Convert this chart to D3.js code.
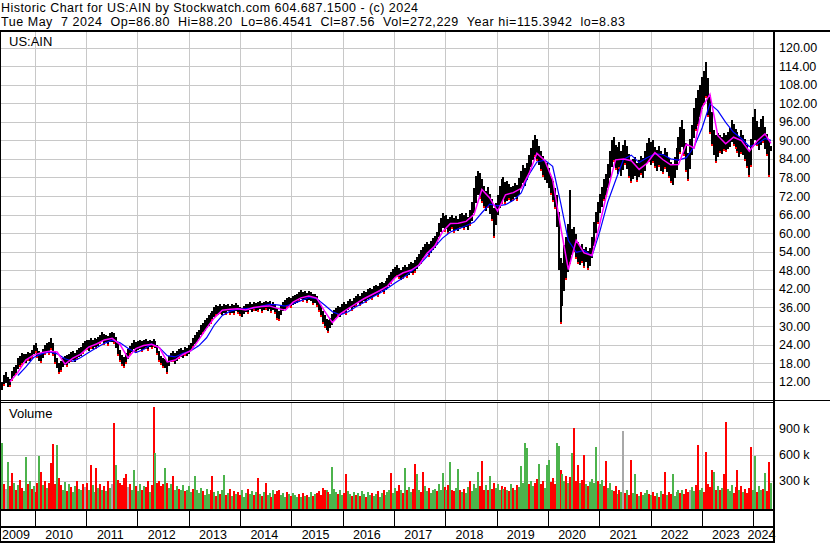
<!DOCTYPE html>
<html>
<head>
<meta charset="utf-8">
<script src="https://cdn.jsdelivr.net/npm/d3@7"></script>
<style>
  body { margin: 0; background: #fff; }
  svg { display: block; font-family: "Liberation Sans", Arial, sans-serif; }
</style>
</head>
<body>
<script>
// --- texts ---
const titleLine = "Historic Chart for US:AIN by Stockwatch.com 604.687.1500 - (c) 2024";
const quoteLine = "Tue May\u00a0\u00a07 2024\u00a0\u00a0Op=86.80\u00a0\u00a0Hi=88.20\u00a0\u00a0Lo=86.4541\u00a0\u00a0Cl=87.56\u00a0\u00a0Vol=272,229\u00a0\u00a0Year hi=115.3942\u00a0\u00a0lo=8.83";
const symbol = "US:AIN";
const lastDate = "2024-05-07";   // one bar every two weeks, ending here

const priceTicks = [12, 18, 24, 30, 36, 42, 48, 54, 60, 66, 72, 78, 84, 90, 96, 102, 108, 114, 120];
const volTicks = [300000, 600000, 900000];
const volTickLabels = ["300 k", "600 k", "900 k"];
const years = [2009, 2010, 2011, 2012, 2013, 2014, 2015, 2016, 2017, 2018, 2019, 2020, 2021, 2022, 2023, 2024];

// --- bars (two-week high / low) ---
const barHigh = [
  12.0,14.2,15.0,13.4,12.8,15.6,16.8,17.5,19.6,20.4, 21.2,21.0,20.8,21.6,21.2,22.4,24.0,24.6,23.0,21.8,
  21.4,22.6,23.8,24.4,24.8,26.0,24.6,22.0,19.6,18.0, 18.6,19.6,20.4,20.6,21.0,21.6,22.0,21.4,22.2,22.8,
  23.2,24.4,25.0,25.4,25.6,26.0,25.4,26.2,25.8,26.4, 27.2,28.0,27.4,27.2,26.8,27.6,28.2,27.6,26.4,24.4,
  22.2,20.6,20.0,21.4,22.6,23.6,24.6,25.4,24.8,25.2, 25.6,25.0,25.4,25.8,25.2,25.6,25.2,25.8,25.0,24.0,
  22.0,20.4,19.8,19.2,18.6,20.2,21.2,21.8,21.4,22.0, 22.6,23.0,22.4,23.2,22.8,23.8,24.6,26.0,27.0,28.2,
  28.8,30.2,31.0,32.0,32.6,33.6,34.2,35.0,36.2,36.8, 36.6,37.0,36.4,37.2,36.8,37.0,36.6,37.2,36.8,37.4,
  36.8,36.2,35.8,36.6,37.2,37.0,37.6,37.2,37.8,37.4, 37.6,38.0,37.4,37.8,38.2,37.8,38.0,37.2,37.6,37.0,
  35.8,35.0,36.4,37.6,38.4,39.0,39.4,39.0,39.6,40.0, 40.4,41.0,41.6,41.0,41.2,40.6,41.4,41.0,40.2,40.4,
  39.6,38.4,36.8,35.0,33.4,32.4,31.8,32.6,34.0,35.2, 35.8,36.6,36.0,37.0,37.6,37.2,38.0,38.6,38.2,39.0,
  39.6,40.2,39.8,40.8,41.4,41.0,41.8,42.4,42.0,42.8, 43.4,43.0,43.8,44.2,43.8,44.6,45.6,46.6,47.6,48.4,
  49.0,49.6,48.8,48.0,49.0,49.8,49.2,50.0,50.8,50.2, 51.2,52.4,53.2,54.4,55.4,56.4,57.2,56.6,57.6,58.4,
  59.0,60.4,63.2,64.8,66.4,65.4,65.8,64.6,65.2,66.0, 64.8,65.6,64.6,66.2,66.6,65.8,66.4,65.2,67.4,70.0,
  74.6,78.6,80.2,79.4,77.6,75.4,73.6,74.8,72.6,71.0, 68.0,69.6,72.4,75.2,77.6,78.2,76.4,76.8,75.8,75.0,
  75.4,76.2,75.6,77.8,80.2,82.0,81.2,82.6,85.2,87.6, 90.0,91.6,90.4,88.2,86.6,84.8,83.4,82.6,81.0,78.6,
  77.0,74.6,72.4,66.8,52.0,50.4,56.2,58.6,63.0,73.8, 61.4,62.0,59.6,57.2,55.8,56.4,55.0,55.6,54.2,55.2,
  58.8,63.6,67.0,70.2,72.8,75.0,77.4,79.2,82.4,86.6, 90.2,91.0,88.6,87.8,89.4,86.6,88.4,90.0,88.2,85.6,
  83.8,84.0,84.6,82.8,83.6,85.0,84.2,86.4,89.0,90.6, 89.6,90.2,88.0,87.0,88.2,86.4,85.6,87.6,86.2,84.4,
  83.0,82.4,84.6,87.4,91.0,94.4,96.6,93.6,89.0,86.0, 90.4,95.0,100.4,103.6,106.2,108.0,110.6,112.4,115.4,110.0,
  104.6,99.0,93.4,91.6,92.4,91.8,91.2,92.4,91.6,92.6, 94.0,96.6,95.4,93.8,92.6,91.0,93.2,91.6,90.4,88.6,
  86.8,90.4,97.6,100.0,96.4,94.4,96.8,98.0,94.4,92.2, 90.0,88.2
];
const barLow = [
  9.3,10.8,11.5,10.2,10.6,12.5,13.8,14.6,16.2,17.0, 17.8,18.4,18.0,19.0,18.6,19.8,21.0,21.6,20.0,18.6,
  18.4,19.6,20.8,21.4,21.0,22.6,20.6,18.2,16.4,14.8, 15.6,16.8,17.6,17.0,18.2,18.6,19.0,18.4,19.4,20.0,
  20.4,21.2,22.0,22.6,22.0,23.0,22.4,23.2,22.8,23.6, 24.4,25.0,24.2,24.8,23.8,24.6,25.0,24.4,23.0,20.6,
  18.6,17.4,16.8,18.0,19.4,20.8,21.8,22.4,21.6,22.2, 22.8,22.0,22.6,23.0,22.4,23.2,22.8,23.4,22.6,20.8,
  18.8,17.6,16.8,16.2,14.8,17.0,18.2,18.8,18.0,18.8, 19.6,20.2,19.8,20.6,20.2,21.0,22.0,23.2,24.0,25.0,
  25.8,27.0,27.8,28.6,29.4,30.2,31.0,32.0,33.0,33.6, 33.8,34.2,33.6,34.4,34.0,34.6,33.8,34.4,34.0,34.8,
  34.2,33.4,32.8,34.0,34.6,34.2,35.0,34.6,35.2,34.8, 35.0,35.4,34.6,35.2,35.6,35.0,35.4,34.4,35.0,34.2,
  32.4,31.8,33.6,34.8,35.6,36.2,36.6,36.0,36.8,37.2, 37.6,38.2,38.6,38.0,38.4,37.8,38.6,38.2,37.0,37.6,
  36.4,34.8,33.2,31.0,29.6,28.8,28.2,29.4,30.6,31.6, 32.6,33.4,32.8,33.8,34.6,34.0,35.0,35.6,35.2,36.0,
  36.6,37.2,36.8,37.6,38.2,37.8,38.6,39.2,38.8,39.6, 40.2,39.8,40.6,41.2,40.8,41.6,42.4,43.2,44.0,44.8,
  45.6,46.2,45.4,44.8,45.6,46.4,45.8,46.6,47.2,46.8, 47.6,48.6,49.4,50.4,51.6,52.4,53.2,52.6,53.8,54.4,
  55.0,56.4,58.6,60.2,61.4,60.6,61.2,60.0,60.8,61.6, 60.4,61.2,60.6,61.8,62.2,61.4,62.0,61.0,62.6,64.0,
  66.6,70.0,72.6,71.4,70.2,68.6,67.2,68.4,66.0,64.4, 58.8,62.6,66.0,68.2,69.8,71.0,69.6,70.4,71.0,70.2,
  70.8,71.6,70.6,72.4,74.6,76.2,75.4,77.0,79.0,81.4, 83.6,85.0,83.8,82.0,80.4,78.6,77.2,76.0,74.4,72.6,
  70.4,68.2,62.0,48.0,31.0,36.6,41.4,45.2,47.4,50.2, 53.0,54.2,52.0,50.4,49.6,50.8,49.2,50.6,48.4,49.4,
  52.0,56.0,60.2,63.4,66.8,68.4,70.6,72.0,74.6,78.0, 81.6,83.2,80.6,79.2,81.0,78.4,80.2,82.4,80.8,78.0,
  76.4,77.4,78.6,77.0,78.2,79.0,77.8,80.0,82.4,83.4, 82.2,83.0,81.4,80.2,81.6,80.0,79.4,81.0,79.6,78.0,
  76.6,75.6,77.8,80.4,83.4,86.0,88.0,85.4,80.2,77.2, 80.6,85.4,90.6,93.4,95.0,97.6,100.4,101.6,104.0,98.0,
  92.4,88.6,85.4,83.0,84.6,86.2,85.8,87.0,86.4,87.2, 88.0,89.4,88.6,87.4,86.2,84.6,86.0,85.0,83.8,81.4,
  78.4,81.6,88.0,90.0,88.6,87.0,88.4,89.6,87.2,85.4, 78.6,86.45
];
// volume in thousands
const barVol = [
  730,260,210,515,240,384,280,190,250,310, 220,180,572,260,300,210,240,170,280,580,
  400,250,300,220,280,500,719,260,707,330, 250,200,290,180,260,230,170,240,300,210,
  190,260,230,280,200,477,250,170,442,220, 260,200,240,180,300,220,260,961,477,310,
  280,250,330,380,230,260,200,420,240,180, 260,200,240,230,300,170,250,1138,615,280,
  300,240,260,450,280,220,260,360,200,240, 210,190,250,180,200,240,170,210,360,200,
  160,220,180,140,210,150,190,350,170,130, 180,150,200,370,140,160,210,130,180,150,
  170,140,190,120,160,210,150,180,140,170, 330,150,130,170,280,140,160,120,190,150,
  180,200,140,160,120,170,150,130,160,140, 120,150,110,160,130,140,120,170,130,150,
  160,180,140,220,190,200,170,150,460,210, 170,150,190,140,160,374,180,150,130,170,
  140,160,130,180,150,120,170,140,160,130, 150,180,120,160,200,140,170,190,390,160,
  220,180,250,200,160,450,190,230,170,210, 490,380,200,170,400,240,180,220,160,190,
  210,180,260,200,390,230,190,250,515,200, 180,220,440,190,170,210,160,230,300,180,
  260,220,395,240,530,200,250,190,360,210, 280,220,260,190,240,210,230,200,180,260,
  220,190,250,230,470,280,730,680,260,300, 240,280,320,490,260,300,220,480,540,290,
  330,260,730,700,420,380,300,360,280,340, 620,905,300,480,280,310,600,260,240,290,
  320,280,690,300,260,310,240,530,220,270, 200,180,240,150,190,170,870,160,200,140,
  540,160,380,150,130,170,140,160,190,150, 140,170,130,160,120,180,150,400,140,170,
  150,380,130,170,200,160,190,150,210,170, 200,230,180,250,710,190,220,170,630,260,
  230,420,400,190,240,200,220,380,976,210, 180,250,160,230,420,190,240,170,210,160,
  220,690,200,580,170,240,190,210,390,180, 510,272
];
// u = up (green), d = down (red), n = unchanged (grey)
const barDir = (
  "udnuddudud duudududdu dududdddud duududuudu udnduduudu dududundud ddddnduudu ududduddud ddduduuduu duuduuuduu " +
  "uuduuuddud uduudududu dduuuduudu dududuudud dduuududuu udududuudu ddddduduuu uduudduudu duduuduudu uduuduuudu " +
  "uddududuud duudduuduu uduuududud duududuudu uuudddudud duuudududu duduuuuudu uddudduuud dduuduudud uddduddudu " +
  "uuuduudduu uddudundud duududuuud uddududdud duuuududdd nuudduuddd ddudududdu uudddududd dduuduudud du"
).replace(/ /g, "").split("");

// moving averages read every 4th bar (plus the last one)
const maShort = [
  null,12.0,15.0,19.0,20.6,21.4,21.8,21.6,17.7,19.6, 20.9,23.2,24.2,25.5,26.0,24.0,19.7,22.7,23.7,24.1,
  23.0,18.4,19.0,20.8,22.0,25.5,29.3,32.7,35.1,35.4, 35.6,35.2,36.0,36.3,36.5,35.7,35.1,37.7,39.1,39.7,
  39.0,34.8,31.1,33.9,35.6,37.2,38.8,40.1,41.4,42.9, 45.7,47.2,48.0,49.7,53.4,55.8,60.5,63.1,63.2,63.8,
  66.0,74.1,71.4,67.1,72.4,73.1,74.5,79.3,85.8,83.5, 77.3,62.2,48.2,57.7,53.6,52.8,63.1,73.9,83.7,84.0,
  83.4,80.6,82.6,86.0,83.8,82.1,82.2,88.8,87.5,100.6, 104.9,91.5,88.9,91.0,89.9,86.5,89.8,92.1,89.0
];
const maLong = [
  null,null,14.0,16.7,19.8,21.0,21.6,21.0,19.4,18.6, 19.8,21.4,23.0,24.4,25.4,24.6,22.8,21.4,22.4,24.2,
  23.0,20.4,20.0,21.2,22.0,23.6,26.2,30.4,33.4,34.8, 35.4,35.6,35.8,36.4,37.0,36.8,36.4,37.2,38.2,39.2,
  38.8,36.8,34.6,33.6,34.6,36.2,37.6,39.2,40.6,42.2, 44.0,45.6,47.6,49.6,52.4,55.6,58.4,60.4,61.4,62.4,
  63.6,66.6,69.4,68.8,69.2,70.6,73.0,79.0,83.0,83.6, 81.6,70.0,57.6,53.8,54.4,52.6,60.6,70.0,77.0,83.8,
  85.2,82.8,84.4,85.6,85.4,84.0,83.6,84.4,88.0,94.0, 101.8,99.6,95.8,92.6,90.6,88.0,88.8,90.6,90.0
];

// --- layout ---
const W = 830, H = 543;
const plotR = 773;
const priceTop = 31, priceBot = 400;
const volTop = 402, volBot = 509;
const gridColor = "#c8c8c8";
const colors = { u: "#4cb34c", d: "#ff0000", n: "#a8a8a8" };

const svg = d3.select("body").append("svg")
  .attr("width", W).attr("height", H)
  .style("shape-rendering", "crispEdges");

const N = barHigh.length;
const end = d3.timeParse("%Y-%m-%d")(lastDate);
const dates = barHigh.map((_, i) => d3.timeDay.offset(end, -(N - 1 - i) * 14));
const yearStarts = years.slice(1).map(y => new Date(y, 0, 1));

const x = d3.scaleTime()
  .domain([new Date(2009, 3, 27), new Date(2024, 4, 22)])
  .range([0, plotR]);
const yP = d3.scaleLinear().domain([12, 120]).range([381.7, 47.5]);
const yV = d3.scaleLinear().domain([0, 900000]).range([507, 428.3]);

// clips
const defs = svg.append("defs");
defs.append("clipPath").attr("id", "clipP").append("rect")
  .attr("x", 1).attr("y", priceTop + 1).attr("width", plotR - 1).attr("height", priceBot - priceTop - 1);
defs.append("clipPath").attr("id", "clipV").append("rect")
  .attr("x", 1).attr("y", volTop + 1).attr("width", plotR - 1).attr("height", volBot - volTop - 1);

// --- gridlines ---
svg.append("g").attr("transform", `translate(${plotR},0)`)
  .call(d3.axisLeft(yP).tickValues(priceTicks).tickSize(plotR).tickFormat(""))
  .call(g => g.select(".domain").remove())
  .selectAll("line").attr("stroke", gridColor);

svg.append("g").attr("transform", `translate(${plotR},0)`)
  .call(d3.axisLeft(yV).tickValues(volTicks).tickSize(plotR).tickFormat(""))
  .call(g => g.select(".domain").remove())
  .selectAll("line").attr("stroke", gridColor);

svg.append("g").attr("transform", `translate(0,${priceBot})`)
  .call(d3.axisBottom(x).tickValues(yearStarts).tickSize(-(priceBot - priceTop)).tickFormat(""))
  .call(g => g.select(".domain").remove())
  .selectAll("line").attr("stroke", gridColor);

svg.append("g").attr("transform", `translate(0,${volBot})`)
  .call(d3.axisBottom(x).tickValues(yearStarts).tickSize(-(volBot - volTop)).tickFormat(""))
  .call(g => g.select(".domain").remove())
  .selectAll("line").attr("stroke", gridColor);

// --- price bars ---
const bx = i => Math.round(x(dates[i])) - 1;
const price = svg.append("g").attr("clip-path", "url(#clipP)");

price.append("g").selectAll("rect")
  .data(d3.range(N))
  .join("rect")
    .attr("x", bx)
    .attr("y", i => Math.round(yP(barHigh[i])))
    .attr("width", 2)
    .attr("height", i => Math.max(1, Math.round(yP(barLow[i]) - yP(barHigh[i]))))
    .attr("fill", "#000");

price.append("g").selectAll("rect")
  .data(d3.range(N).filter(i => barDir[i] === "d"))
  .join("rect")
    .attr("x", bx)
    .attr("y", i => Math.round(yP(barLow[i])) - 1)
    .attr("width", 2).attr("height", 2)
    .attr("fill", "#ff0000");

// moving averages
const maIdx = d3.range(0, N - 3, 4).concat(N - 1);
const maLine = arr => d3.line()
  .defined(j => arr[j] != null)
  .x(j => x(dates[maIdx[j]]))
  .y(j => yP(arr[j]));

price.append("path")
  .attr("d", maLine(maLong)(d3.range(maIdx.length)))
  .attr("fill", "none").attr("stroke", "#0000ff").attr("stroke-width", 1.2)
  .style("shape-rendering", "auto");
price.append("path")
  .attr("d", maLine(maShort)(d3.range(maIdx.length)))
  .attr("fill", "none").attr("stroke", "#ff00ff").attr("stroke-width", 1.5)
  .style("shape-rendering", "auto");

// --- volume bars ---
svg.append("g").attr("clip-path", "url(#clipV)")
  .selectAll("rect")
  .data(d3.range(N))
  .join("rect")
    .attr("x", bx)
    .attr("y", i => Math.round(yV(barVol[i] * 1000)))
    .attr("width", 2)
    .attr("height", i => volBot - Math.round(yV(barVol[i] * 1000)))
    .attr("fill", i => colors[barDir[i]]);

// --- frame ---
const frame = svg.append("g").attr("fill", "#000");
frame.append("rect").attr("x", 0).attr("y", 30).attr("width", W).attr("height", 2);
frame.append("rect").attr("x", 0).attr("y", priceTop).attr("width", 1).attr("height", H - priceTop);
frame.append("rect").attr("x", plotR).attr("y", priceTop).attr("width", 2).attr("height", H - priceTop);
frame.append("rect").attr("x", 0).attr("y", priceBot).attr("width", W).attr("height", 1);
frame.append("rect").attr("x", 0).attr("y", volTop).attr("width", plotR).attr("height", 1);
frame.append("rect").attr("x", 0).attr("y", volBot).attr("width", plotR + 2).attr("height", 2);
frame.append("rect").attr("x", 0).attr("y", 526).attr("width", plotR + 2).attr("height", 2);
frame.append("rect").attr("x", 0).attr("y", 541).attr("width", plotR + 2).attr("height", 2);

// year separators in the date band
svg.append("g").attr("transform", `translate(0,${volBot + 2})`)
  .call(d3.axisBottom(x).tickValues(yearStarts).tickSize(15).tickFormat(""))
  .call(g => g.select(".domain").remove())
  .selectAll("line").attr("stroke", "#000");

// --- text ---
const txt = svg.append("g").attr("fill", "#000");
txt.append("text").attr("x", 1).attr("y", 12).attr("font-size", 12.5)
  .attr("textLength", 417).attr("lengthAdjust", "spacing").text(titleLine);
txt.append("text").attr("x", 1).attr("y", 26).attr("font-size", 12.5)
  .attr("textLength", 624).attr("lengthAdjust", "spacing").text(quoteLine);
txt.append("text").attr("x", 9).attr("y", 46).attr("font-size", 13).text(symbol);
txt.append("text").attr("x", 9).attr("y", 418).attr("font-size", 13).text("Volume");

svg.append("g").attr("transform", `translate(${plotR},0)`)
  .call(d3.axisRight(yP).tickValues(priceTicks).tickSize(0).tickPadding(6).tickFormat(d3.format(".2f")))
  .call(g => g.select(".domain").remove())
  .selectAll("text").attr("font-size", 12.5).attr("font-family", null).attr("fill", "#000");

svg.append("g").attr("transform", `translate(${plotR},0)`)
  .call(d3.axisRight(yV).tickValues(volTicks).tickSize(0).tickPadding(6).tickFormat((d, i) => volTickLabels[i]))
  .call(g => g.select(".domain").remove())
  .selectAll("text").attr("font-size", 12.5).attr("font-family", null).attr("fill", "#000");

svg.append("g").selectAll("text")
  .data(years)
  .join("text")
    .attr("x", y => {
      const a = Math.max(0, x(new Date(y, 0, 1)));
      const b = Math.min(plotR, x(new Date(y + 1, 0, 1)));
      return (a + b) / 2 - 1.5;
    })
    .attr("y", 539)
    .attr("text-anchor", "middle")
    .attr("font-size", 12.5)
    .text(y => y);

// redraw right border over the 2024 label like the original
svg.append("rect").attr("x", plotR).attr("y", 510).attr("width", 2).attr("height", H - 510).attr("fill", "#000");
</script>
</body>
</html>
